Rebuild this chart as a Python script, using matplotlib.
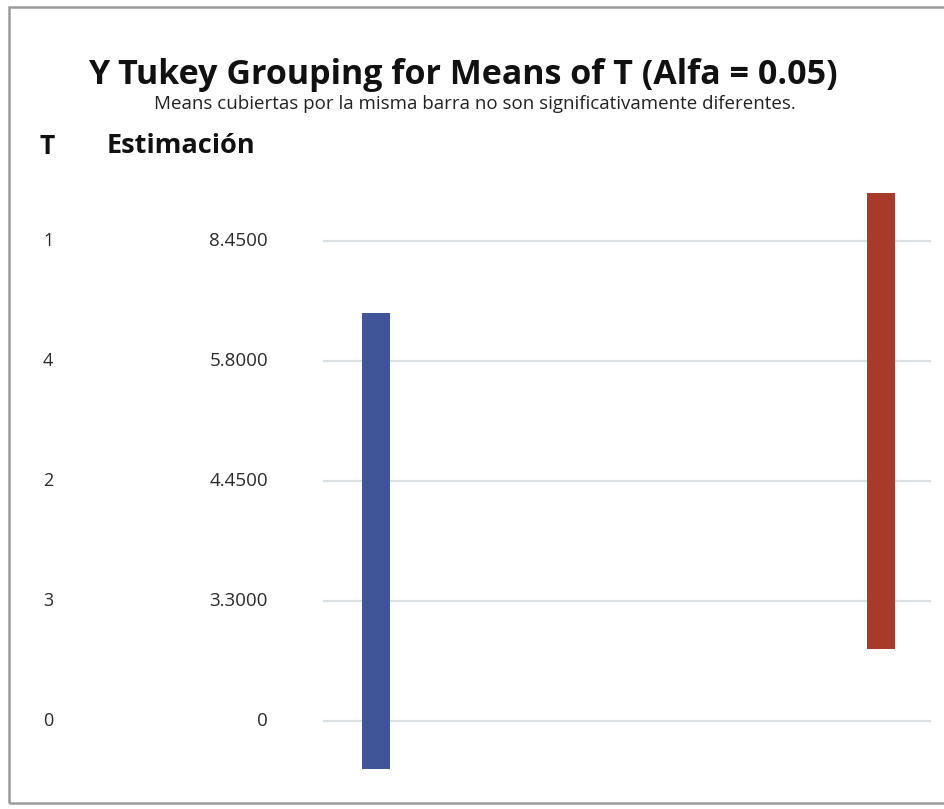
import matplotlib.pyplot as plt
import matplotlib.transforms as mtransforms
from matplotlib.patches import Rectangle

plt.rcParams['font.family'] = ['Open Sans', 'DejaVu Sans']

# Tukey grouping table
t_levels = ['1', '4', '2', '3', '0']
estimates = ['8.4500', '5.8000', '4.4500', '3.3000', '0']
group_names = ['B', 'A']
group_first = [1, 0]   # first row covered by each grouping bar
group_last = [4, 3]    # last row covered by each grouping bar
group_colors = ['#40549a', '#a83a2c']

W, H = 945, 809
fig = plt.figure(figsize=(W / 100, H / 100), dpi=100)
fig.patch.set_facecolor('white')

# outer frame of the output window
fig.patches.append(Rectangle((9 / W, 1 - 803 / H), 960 / W, 796 / H,
                             transform=fig.transFigure, fill=False,
                             edgecolor='#9c9c9c', linewidth=1.8))

# plotting area: rows are spaced 120 px apart starting at y=241
top_px, bot_px = 170, 795
left_px, right_px = 320, 935
ax = fig.add_axes([left_px / W, 1 - bot_px / H,
                   (right_px - left_px) / W, (bot_px - top_px) / H])
ax.set_ylim((bot_px - 241) / 120, (top_px - 241) / 120)
ax.set_xlim(0, 1)
ax.axis('off')

rows = list(range(len(t_levels)))
for r in rows:
    ax.axhline(r, xmin=0.006, xmax=0.992, color='#dcdfe3', lw=1.6, zorder=1)

bar_x = [0.091, 0.912]
for x, g0, g1, c in zip(bar_x, group_first, group_last, group_colors):
    ax.bar(x, (g1 + 0.4) - (g0 - 0.4), bottom=g0 - 0.4, width=0.046,
           color=c, zorder=2)

# table text to the left of the bars
trans = mtransforms.blended_transform_factory(fig.transFigure, ax.transData)
for r, lvl, est in zip(rows, t_levels, estimates):
    ax.text(43 / W, r, lvl, transform=trans, ha='left', va='center',
            fontsize=13, color='#2a2a2a', clip_on=False)
    ax.text(268 / W, r, est, transform=trans, ha='right', va='center',
            fontsize=13.5, color='#2a2a2a', clip_on=False)

fig.text(40 / W, 1 - 146 / H, 'T', ha='left', va='center',
         fontsize=19, fontweight='bold', color='#111111')
fig.text(107 / W, 1 - 146 / H, 'Estimación', ha='left', va='center',
         fontsize=19.5, fontweight='bold', color='#111111')

fig.text(463 / W, 1 - 75 / H, 'Y Tukey Grouping for Means of T (Alfa = 0.05)',
         ha='center', va='center', fontsize=24.5, fontweight='bold',
         color='#111111')
fig.text(475 / W, 1 - 104 / H,
         'Means cubiertas por la misma barra no son significativamente diferentes.',
         ha='center', va='center', fontsize=13.5, color='#222222')

fig.savefig('out.png', dpi=100)
